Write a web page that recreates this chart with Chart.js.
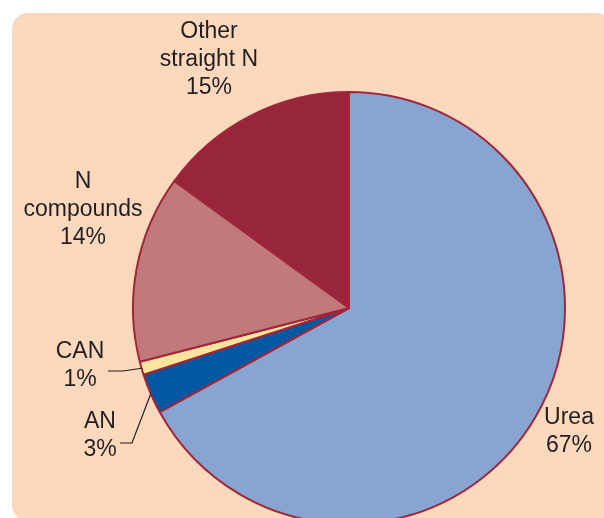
<!DOCTYPE html>
<html lang="en">
<head>
<meta charset="UTF-8">
<title>N fertiliser types</title>
<script src="https://cdn.jsdelivr.net/npm/chart.js"></script>
<style>
    html, body { margin: 0; padding: 0; background: #fff; overflow: hidden; width: 604px; height: 518px; }
    .box { position: absolute; left: 12px; top: 13px; width: 600px; height: 508px; background: #fcd8bd; border-radius: 16px; }
    .wrap { position: absolute; left: 0; top: 0; width: 604px; height: 540px; }
</style>
</head>
<body>
<div class="box"></div>
<div class="wrap"><canvas id="pie"></canvas></div>

<script>
    // data, clockwise from 12 o'clock
    var categorias = ["Urea", "AN", "CAN", "N compounds", "Other straight N"];
    var rotulos = [["Urea", "67%"], ["AN", "3%"], ["CAN", "1%"], ["N", "compounds", "14%"], ["Other", "straight N", "15%"]];
    var valores = [67, 3, 1, 14, 15];
    var cores = ["#88a4d0", "#0058a3", "#fde49e", "#c17a79", "#97263b"];

    // where each label sits, relative to the pie centre (px)
    var posRotulos = [
        { dx: 220, dy: 110 },
        { dx: -249, dy: 114, linha: { ex: -217, ey: 135, hx: -229 } },
        { dx: -269, dy: 44, linha: { ex: -226, ey: 63, hx: -241 } },
        { dx: -266, dy: -126 },
        { dx: -140, dy: -276 }
    ];

    const rotulosPlugin = {
        id: 'rotulos',
        afterDatasetsDraw(chart) {
            const ctx = chart.ctx;
            const arcs = chart.getDatasetMeta(0).data;
            ctx.save();
            ctx.fillStyle = '#231f20';
            ctx.strokeStyle = '#231f20';
            ctx.lineWidth = 1.2;
            ctx.font = '23px "Liberation Sans", Arial, sans-serif';
            ctx.textAlign = 'center';
            ctx.textBaseline = 'middle';
            arcs.forEach(function (arc, i) {
                const p = posRotulos[i];
                const cx = arc.x, cy = arc.y;
                const linhas = rotulos[i];
                linhas.forEach(function (t, k) {
                    ctx.fillText(t, cx + p.dx, cy + p.dy + k * 28);
                });
                if (p.linha) {
                    const meio = (arc.startAngle + arc.endAngle) / 2;
                    const r = arc.outerRadius;
                    ctx.beginPath();
                    ctx.moveTo(cx + Math.cos(meio) * r, cy + Math.sin(meio) * r);
                    ctx.lineTo(cx + p.linha.ex, cy + p.linha.ey);
                    ctx.lineTo(cx + p.linha.hx, cy + p.linha.ey);
                    ctx.stroke();
                }
            });
            ctx.restore();
        }
    };

    new Chart(document.getElementById('pie'), {
        type: 'pie',
        data: {
            labels: categorias,
            datasets: [{
                data: valores,
                backgroundColor: cores,
                borderColor: '#a0263a',
                borderWidth: 2,
                radius: 216
            }]
        },
        options: {
            responsive: true,
            maintainAspectRatio: false,
            animation: false,
            layout: { padding: { left: 133, right: 39, top: 92, bottom: 16 } },
            plugins: {
                legend: { display: false },
                tooltip: { enabled: false }
            }
        },
        plugins: [rotulosPlugin]
    });
</script>
</body>
</html>
